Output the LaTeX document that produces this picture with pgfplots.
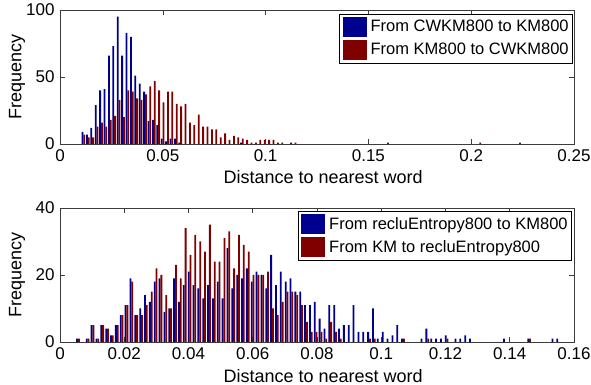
\documentclass[border=0pt]{standalone}
\usepackage{fontspec}
\setmainfont{Liberation Sans}
\usepackage{pgfplots}
\pgfplotsset{compat=1.18}
\definecolor{mblue}{RGB}{0,0,143}
\definecolor{mred}{RGB}{128,0,0}
\definecolor{axgray}{RGB}{60,60,60}
\pgfplotsset{
  mystyle/.style={
    scale only axis, width=514pt, height=134pt,
    anchor=south west,
    axis line style={axgray, line width=0.6pt},
    tick style={axgray, line width=0.6pt},
    major tick length=5pt,
    tick align=inside,
    xtick pos=both, ytick pos=both,
    /pgf/number format/assume math mode=true,
    tick label style={font=\fontsize{17}{20}\selectfont},
    label style={font=\fontsize{18}{21}\selectfont},
    xticklabel style={/pgf/number format/fixed, /pgf/number format/precision=2},
    ylabel={Frequency},
    xlabel={Distance to nearest word},
    ylabel style={at={(axis description cs:-0.0837,0.5)}, anchor=center},
    legend cell align=left,
    legend image code/.code={\fill[##1] (0pt,-10pt) rectangle (24pt,10pt);},
    legend style={draw=black, line width=0.6pt, fill=white, inner xsep=3pt, inner ysep=3pt,
      row sep=3pt, nodes={inner sep=1pt}, font=\fontsize{16.5}{19}\selectfont,
      /tikz/every odd column/.append style={column sep=3pt}},
  },
  bblue/.style={ybar, bar width=1.8pt, bar shift=-0.9pt, fill=mblue, draw=none},
  bred/.style={ybar, bar width=1.8pt, bar shift=0.9pt, fill=mred, draw=none},
}
\begin{document}
\fontsize{16}{19}\selectfont
\begin{tikzpicture}
\path[use as bounding box] (0,0) rectangle (591pt,385pt);
\begin{axis}[mystyle, at={(60pt,241pt)},
  xmin=0, xmax=0.25, ymin=0, ymax=100,
  xtick={0,0.05,0.1,0.15,0.2,0.25}, ytick={0,50,100},
  xlabel style={at={(axis description cs:0.512,-0.246)}, anchor=center},
  legend style={at={(axis description cs:0.998,0.970)}, anchor=north east}]
\addplot[bblue] coordinates {(0.0114,9) (0.01354,7) (0.01568,12) (0.01782,29) (0.01996,40) (0.0221,41) (0.02424,66) (0.02638,73) (0.02852,95) (0.03066,66) (0.0328,83) (0.03494,80) (0.03708,51) (0.03922,45) (0.04136,39) (0.0435,17) (0.04564,18) (0.04778,14) (0.04992,4) (0.05206,2) (0.0542,4) (0.05634,4) (0.05848,1) (0.08844,1)};
\addlegendentry{From CWKM800 to KM800}
\addplot[bred] coordinates {(0.0114,7) (0.01354,5) (0.01568,5) (0.01782,13) (0.01996,16) (0.0221,13) (0.02424,18) (0.02638,21) (0.02852,33) (0.03066,20) (0.0328,40) (0.03494,39) (0.03708,34) (0.03922,33) (0.04136,37) (0.0435,43) (0.04564,47) (0.04778,40) (0.04992,31) (0.05206,39) (0.0542,39) (0.05634,30) (0.05848,28) (0.06062,30) (0.06276,16) (0.0649,14) (0.06704,22) (0.06918,13) (0.07132,13) (0.07346,11) (0.0756,11) (0.07774,5) (0.07988,8) (0.08202,3) (0.08416,6) (0.0863,5) (0.08844,4) (0.09058,3) (0.09272,1) (0.09486,1) (0.097,3) (0.09914,3) (0.10128,3) (0.10342,3) (0.10556,1) (0.1077,1) (0.11198,1) (0.11412,1) (0.15906,1) (0.204,1) (0.22326,1)};
\addlegendentry{From KM800 to CWKM800}
\end{axis}
\begin{axis}[mystyle, at={(60pt,43pt)},
  xmin=0, xmax=0.16, ymin=0, ymax=40,
  xtick={0,0.02,0.04,0.06,0.08,0.1,0.12,0.14,0.16}, ytick={0,20,40},
  xlabel style={at={(axis description cs:0.512,-0.254)}, anchor=center},
  legend style={at={(axis description cs:0.996,0.978)}, anchor=north east}]
\addplot[bblue] coordinates {(0.0056,1) (0.00862,1) (0.01013,5) (0.01164,1) (0.01315,5) (0.01466,4) (0.01617,2) (0.01768,5) (0.01919,8) (0.0207,11) (0.02221,19) (0.02372,8) (0.02523,10) (0.02674,14) (0.02825,12) (0.02976,18) (0.03127,19) (0.03278,9) (0.03429,10) (0.0358,19) (0.03731,12) (0.03882,17) (0.04033,21) (0.04184,17) (0.04335,16) (0.04486,13) (0.04637,17) (0.04788,13) (0.04939,18) (0.0509,13) (0.05241,28) (0.05392,16) (0.05543,20) (0.05694,19) (0.05845,22) (0.05996,18) (0.06147,21) (0.06298,20) (0.06449,16) (0.066,26) (0.06751,17) (0.06902,21) (0.07053,18) (0.07204,19) (0.07355,15) (0.07506,15) (0.07657,11) (0.07808,11) (0.07959,12) (0.0811,7) (0.08261,4) (0.08412,11) (0.08563,11) (0.08714,4) (0.08865,5) (0.09016,5) (0.09167,11) (0.09318,3) (0.09469,3) (0.0962,3) (0.09771,10) (0.09922,1) (0.10073,3) (0.10224,1) (0.10375,2) (0.10526,5) (0.10677,1) (0.11281,1) (0.11432,4) (0.11583,1) (0.11734,1) (0.11885,1) (0.12036,2) (0.12338,1) (0.12489,1) (0.1264,2) (0.12791,1) (0.13848,1) (0.14603,1) (0.15358,1) (0.15509,1)};
\addlegendentry{From recluEntropy800 to KM800}
\addplot[bred] coordinates {(0.0056,1) (0.00862,1) (0.01013,5) (0.01164,1) (0.01315,5) (0.01466,4) (0.01617,2) (0.01768,5) (0.01919,8) (0.0207,11) (0.02221,18) (0.02372,8) (0.02523,8) (0.02674,11) (0.02825,15) (0.02976,22) (0.03127,20) (0.03278,14) (0.03429,10) (0.0358,23) (0.03731,19) (0.03882,34) (0.04033,26) (0.04184,32) (0.04335,30) (0.04486,27) (0.04637,35) (0.04788,24) (0.04939,24) (0.0509,31) (0.05241,33) (0.05392,22) (0.05543,32) (0.05694,29) (0.05845,27) (0.05996,20) (0.06147,20) (0.06298,20) (0.06449,21) (0.066,10) (0.06751,8) (0.06902,12) (0.07053,15) (0.07204,15) (0.07355,14) (0.07506,11) (0.07657,6) (0.07808,3) (0.07959,3) (0.0811,3) (0.08261,1) (0.08412,6) (0.08563,3) (0.08714,1) (0.0962,1) (0.09771,1) (0.10677,1) (0.11432,1) (0.12036,1) (0.14603,1)};
\addlegendentry{From KM to recluEntropy800}
\end{axis}
\end{tikzpicture}
\end{document}
